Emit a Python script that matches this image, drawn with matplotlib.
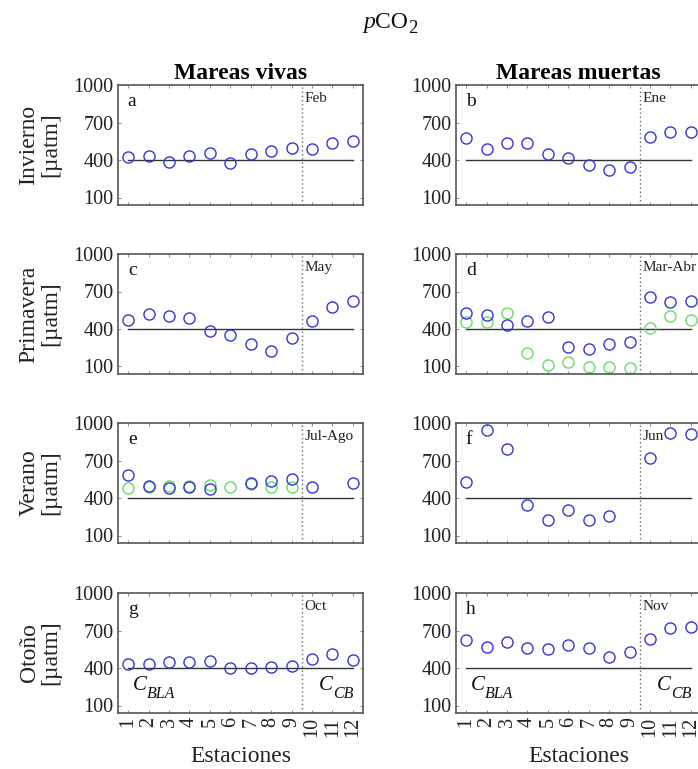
import numpy as np
import matplotlib
matplotlib.use("Agg")
import matplotlib.pyplot as plt

plt.rcParams['font.family'] = ['Liberation Serif', 'DejaVu Serif']

nan = np.nan
stations = list(range(1, 13))
station_labels = [str(s) for s in stations]
yticks = [100, 400, 700, 1000]
ref_level = 400

col_titles = ["Mareas vivas", "Mareas muertas"]
row_labels = ["Invierno\n[µatm]", "Primavera\n[µatm]", "Verano\n[µatm]", "Otoño\n[µatm]"]
panel_letters = ["a", "b", "c", "d", "e", "f", "g", "h"]
months = ["Feb", "Ene", "May", "Mar-Abr", "Jul-Ago", "Jun", "Oct", "Nov"]

# blue series (per panel a..h)
blue_a = [421, 435, 381, 435, 454, 376, 448, 475, 497, 488, 534, 555]
blue_b = [577, 488, 534, 539, 448, 413, 362, 322, 341, 585, 628, 628]
blue_c = [476, 523, 501, 487, 381, 354, 277, 225, 326, 468, 577, 624]
blue_d = [528, 509, 433, 465, 495, 255, 236, 277, 299, 659, 613, 626]
blue_e = [586, 499, 477, 485, 474, nan, 521, 534, 556, 490, nan, 518]
blue_f = [530, 942, 793, 345, 225, 307, 228, 258, nan, 722, 921, 915]
blue_g = [433, 433, 452, 452, 455, 397, 400, 405, 416, 476, 509, 468]
blue_h = [624, 569, 610, 559, 550, 586, 559, 488, 531, 632, 722, 728]

# green series (only panels d and e)
green_d = [455, 457, 528, 204, 114, 135, 92, 92, 86, 408, 506, 476]
green_e = [477, 485, 499, 496, 504, 485, 510, 490, 485, nan, nan, nan]

blue_all = [blue_a, blue_b, blue_c, blue_d, blue_e, blue_f, blue_g, blue_h]
green_all = [None, None, None, green_d, green_e, None, None, None]

W, H = 698, 769
fig = plt.figure(figsize=(W / 100, H / 100), dpi=100)
renderer = fig.canvas.get_renderer()


def px_text(x, y, s, **kw):
    """Place text at figure pixel coords (from top-left), baseline anchored."""
    return fig.text(x / W, 1 - y / H, s, ha='left', va='baseline', **kw)


def compose(x, y, parts):
    """parts: list of (string, fontsize, style, dy_px)."""
    for s, fs, style, dy in parts:
        t = px_text(x, y + dy, s, fontsize=fs, style=style, color='#111111')
        bb = t.get_window_extent(renderer)
        x += bb.width


left_px = [118, 456]
width_px = 245
tops_px = [85, 254, 423, 593]
height_px = 120

blue_col = '#3535d5'
green_col = '#66dd66'
spine_col = '#555555'

for r in range(4):
    for c in range(2):
        idx = r * 2 + c
        ax = fig.add_axes([left_px[c] / W, 1 - (tops_px[r] + height_px) / H,
                           width_px / W, height_px / H])
        ax.set_xlim(0.5, 12.5)
        ax.set_ylim(40, 1000)
        ax.plot([stations[0], stations[-1]], [ref_level, ref_level], color='#333333', lw=1.0, zorder=1)
        ax.axvline(9.5, color='#666666', lw=1.0, ls=(0, (1, 2)), zorder=1)
        g = green_all[idx]
        if g is not None:
            ax.plot(stations, g, 'o', mfc='none', mec=green_col, ms=8, mew=1.0, zorder=2)
        ax.plot(stations, blue_all[idx], 'o', mfc='none', mec=blue_col, ms=8, mew=1.0, zorder=3)
        ax.set_yticks(yticks)
        ax.set_yticklabels([str(v) for v in yticks], fontsize=14.5, color='#222222')
        ax.set_xticks(stations)
        if r == 3:
            ax.set_xticklabels(station_labels, rotation=90, fontsize=14.5, color='#222222')
            ax.set_xlabel("Estaciones", fontsize=17, color='#222222', labelpad=6)
        else:
            ax.set_xticklabels([])
        ax.tick_params(direction='in', length=2.5, width=0.6, colors='#777777',
                       top=True, right=True, pad=3)
        ax.tick_params(labelcolor='#222222')
        for s in ax.spines.values():
            s.set_color(spine_col)
            s.set_linewidth(1.2)
        ax.text(0.04, 0.86, panel_letters[idx], transform=ax.transAxes,
                fontsize=14, ha='left', va='center', color='#111111')
        ax.text(9.62, 890, months[idx], fontsize=11, ha='left', va='center', color='#222222')
        if r == 0:
            ax.set_title(col_titles[c], fontsize=17, fontweight='bold', pad=4)
        if r == 3:
            base = tops_px[r] + 97
            compose(left_px[c] + 15, base, [("C", 15, 'italic', 0), ("BLA", 11.5, 'italic', 8)])
            compose(left_px[c] + 201, base, [("C", 15, 'italic', 0), ("CB", 11.5, 'italic', 8)])
        if c == 0:
            fig.text(40 / W, 1 - (tops_px[r] + height_px / 2) / H, row_labels[r],
                     rotation=90, ha='center', va='center', fontsize=17,
                     linespacing=1.05, color='#222222')

# figure title  pCO2
compose(363, 28, [("p", 17, 'italic', 0), ("CO", 17, 'normal', 0), ("2", 13.5, 'normal', 5)])

fig.savefig('out.png', dpi=100)
